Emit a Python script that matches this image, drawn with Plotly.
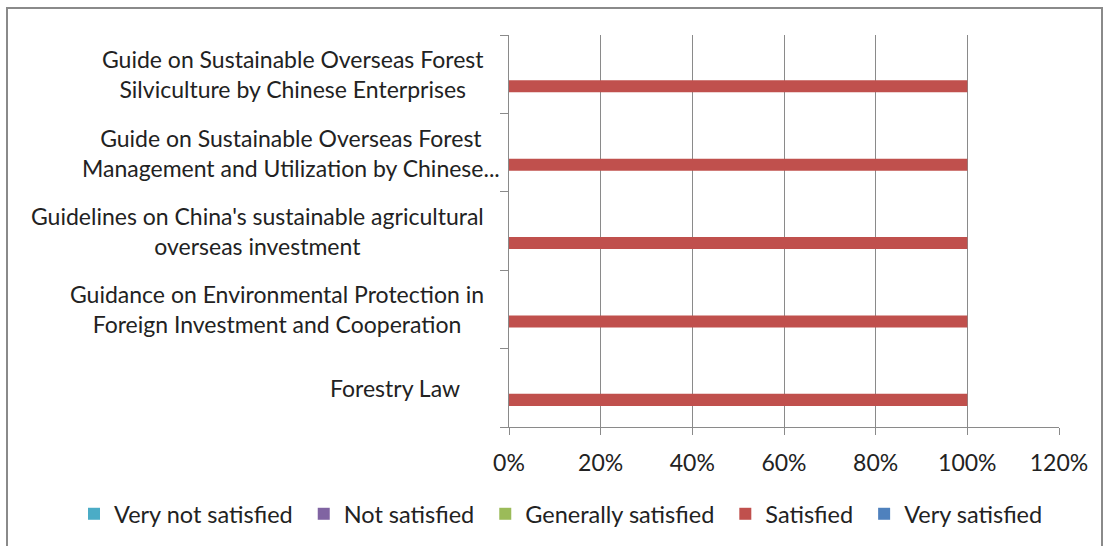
import plotly.graph_objects as go

# Policy documents, listed top to bottom
categories = [
    "Guide on Sustainable Overseas Forest<br>Silviculture by Chinese Enterprises",
    "Guide on Sustainable Overseas Forest<br>Management and Utilization by Chinese...",
    "Guidelines on China's sustainable agricultural<br>overseas investment",
    "Guidance on Environmental Protection in<br>Foreign Investment and Cooperation",
    "Forestry Law",
]

series_names = ["Very not satisfied", "Not satisfied", "Generally satisfied", "Satisfied", "Very satisfied"]
series_colors = ["#4BACC6", "#8064A2", "#9BBB59", "#C0504D", "#4F81BD"]

# share of respondents per satisfaction level, per document
very_not_satisfied = [0, 0, 0, 0, 0]
not_satisfied = [0, 0, 0, 0, 0]
generally_satisfied = [0, 0, 0, 0, 0]
satisfied = [1.0, 1.0, 1.0, 1.0, 1.0]
very_satisfied = [0, 0, 0, 0, 0]
series_values = [very_not_satisfied, not_satisfied, generally_satisfied, satisfied, very_satisfied]

x_ticks = [0, 0.2, 0.4, 0.6, 0.8, 1.0, 1.2]

FONT = "Lato, Liberation Sans, sans-serif"
FS = 23
TEXT = "#222222"
GRID = "#8a8a8a"

W, H = 1105, 546
L, R, T, B = 509, 46, 35, 119
pw, ph = W - L - R, H - T - B

fig = go.Figure()
# Clustered bars: traces added bottom-to-top within each group;
# a non-breaking space after each name widens the legend entry spacing
for name, color, vals in reversed(list(zip(series_names, series_colors, series_values))):
    fig.add_trace(go.Bar(
        y=categories, x=vals, name=name + "\u00a0", orientation="h",
        marker=dict(color=color, line=dict(width=0)),
    ))

# Category labels, lines centred on each other
label_pad = [23, 7, 23, 23, 47]
for cat, pad in zip(categories, label_pad):
    fig.add_annotation(
        x=0, xref="paper", y=cat, yref="y", xanchor="right", yanchor="middle",
        xshift=-pad, text=cat, showarrow=False, align="center",
        font=dict(family=FONT, size=FS, color=TEXT),
    )

# Outer chart border
fig.add_shape(
    type="rect", xref="paper", yref="paper",
    x0=(7 - L) / pw, x1=(1102 - L) / pw,
    y0=(H - B - 600) / ph, y1=(H - B - 8) / ph,
    line=dict(color="#8a8a8a", width=2), fillcolor="rgba(0,0,0,0)", layer="below",
)

fig.update_layout(
    width=W, height=H,
    margin=dict(l=L, r=R, t=T, b=B, pad=0, autoexpand=False),
    paper_bgcolor="white", plot_bgcolor="white",
    barmode="group", bargap=1.5 / 6.5, bargroupgap=0,
    font=dict(family=FONT, size=FS, color=TEXT),
    showlegend=True,
    legend=dict(
        orientation="h", traceorder="reversed",
        x=(74 - L) / pw, y=-(514 - (H - B)) / ph, xanchor="left", yanchor="middle",
        font=dict(family=FONT, size=23.5, color=TEXT),
        itemwidth=30, tracegroupgap=0, bgcolor="rgba(0,0,0,0)",
    ),
    xaxis=dict(
        range=[0, 1.2], tickvals=x_ticks, tickformat=".0%",
        showgrid=True, gridcolor=GRID, gridwidth=1,
        showline=True, linecolor=GRID, linewidth=1,
        ticks="outside", ticklen=7, tickcolor=GRID,
        ticklabelstandoff=8,
        zeroline=False, fixedrange=True,
        tickfont=dict(family=FONT, size=FS, color=TEXT),
    ),
    yaxis=dict(
        categoryorder="array", categoryarray=list(reversed(categories)),
        showticklabels=False, showgrid=False, zeroline=False,
        showline=True, linecolor=GRID, linewidth=1,
        ticks="outside", ticklen=8, tickcolor=GRID, tickson="boundaries",
        fixedrange=True,
    ),
)

fig.write_html("out.html")
